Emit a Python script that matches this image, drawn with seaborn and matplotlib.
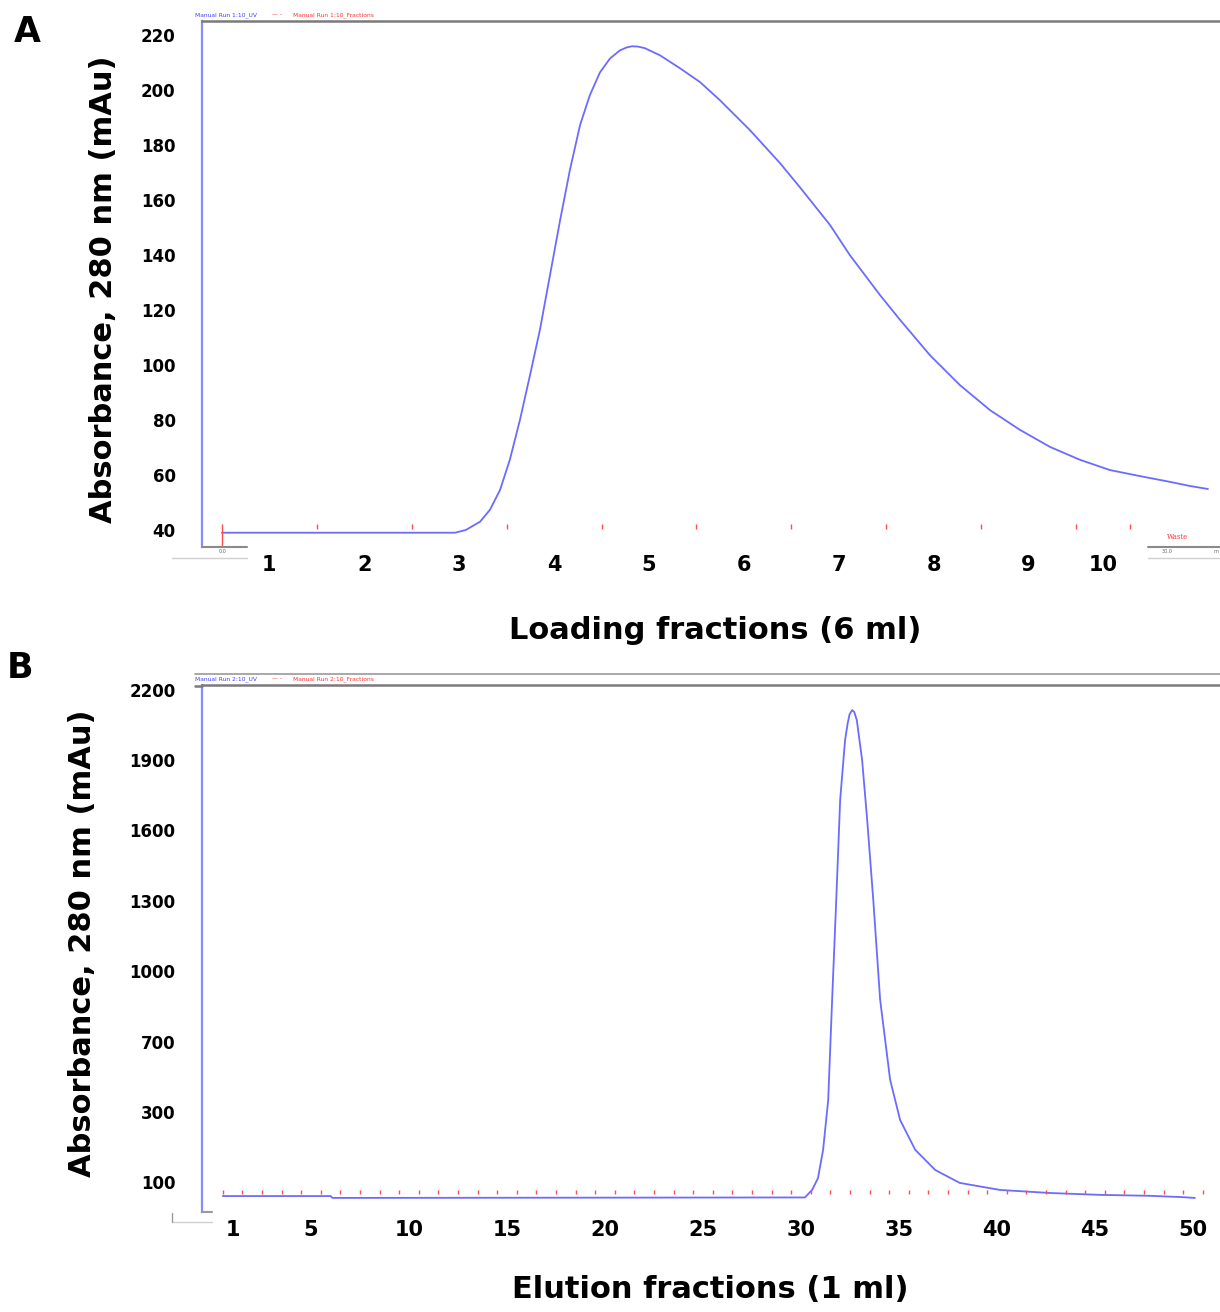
import numpy as np
import pandas as pd
import matplotlib.pyplot as plt
import seaborn as sns
from matplotlib.lines import Line2D

# --- Panel A: loading run (volume in ml, absorbance in mAu) ---
load_ml = [0.0, 7.37, 7.71, 8.16, 8.47, 8.79, 9.1, 9.42, 9.74, 10.05, 10.37, 10.69,
           11.0, 11.32, 11.63, 11.95, 12.27, 12.58, 12.8, 12.96, 13.15, 13.37, 13.85,
           14.48, 15.11, 15.74, 16.69, 17.64, 18.27, 19.22, 19.85, 20.8, 21.44,
           22.38, 23.33, 24.28, 25.23, 26.18, 27.13, 28.07, 29.02, 29.97, 30.6, 31.17]
load_mau = [39, 39, 40, 43, 47.3, 54.5, 65.5, 80, 96.4, 112.7, 132.7, 152.7,
            171, 187.3, 198.2, 206.5, 211.6, 214.5, 215.6, 216, 215.9, 215.3, 212.7,
            208, 203, 196.4, 185.5, 173.5, 164.7, 151, 140, 125.5, 116.4,
            103.6, 92.7, 83.6, 76.4, 70.2, 65.5, 61.8, 59.6, 57.5, 56, 54.9]
load_marks = [0, 3, 6, 9, 12, 15, 18, 21, 24, 27, 28.7]
load_labels = ['1', '2', '3', '4', '5', '6', '7', '8', '9', '10']
load_yticks = [40, 60, 80, 100, 120, 140, 160, 180, 200, 220]

# --- Panel B: elution run ---
elu_ml = [0.0, 5.5, 5.6, 29.7, 30.07, 30.37, 30.63, 30.89, 31.09, 31.3, 31.5,
          31.75, 31.88, 31.98, 32.11, 32.22, 32.35, 32.62, 32.88, 33.19, 33.54,
          34.05, 34.56, 35.33, 36.35, 37.6, 39.66, 42.2, 44.76, 47.3, 48.8, 49.6]
elu_mau = [42, 42, 34, 36, 68, 119, 239, 452, 878, 1303, 1730,
           1985, 2055, 2095, 2113, 2105, 2070, 1900, 1644, 1303, 878,
           537, 366, 239, 153, 98, 68, 55, 47, 43, 38, 34]
elu_marks = list(range(0, 51))
elu_labels = ['1', '5', '10', '15', '20', '25', '30', '35', '40', '45', '50']
elu_label_fracs = [1, 5, 10, 15, 20, 25, 30, 35, 40, 45, 50]
elu_yticks = [2200, 1900, 1600, 1300, 1000, 700, 400, 100]
elu_yticklabels = ['2200', '1900', '1600', '1300', '1000', '700', '300', '100']

ylab = 'Absorbance, 280 nm (mAu)'
curve_col = '#6b6bff'
axis_col = '#8a8aff'
mark_col = '#ff4d4d'

sns.set_style('white')
plt.rcParams['font.family'] = ['DejaVu Sans']
plt.rcParams['text.color'] = 'black'
plt.rcParams['axes.labelcolor'] = 'black'
plt.rcParams['xtick.labelcolor'] = 'black'
plt.rcParams['ytick.labelcolor'] = 'black'

W, H = 1220, 1312
fig = plt.figure(figsize=(W / 100, H / 100), dpi=100)


def px_axes(l, t, r, b):
    return fig.add_axes([l / W, 1 - b / H, (r - l) / W, (b - t) / H])


def px_line(x0, x1, y0, y1, color, lw):
    fig.add_artist(Line2D([x0 / W, x1 / W], [1 - y0 / H, 1 - y1 / H],
                          transform=fig.transFigure, color=color, lw=lw))


def px_text(x, y, s, **kw):
    fig.text(x / W, 1 - y / H, s, **kw)


def style_axes(ax):
    for side in ['right', 'bottom']:
        ax.spines[side].set_visible(False)
    ax.spines['left'].set_color(axis_col)
    ax.spines['left'].set_linewidth(1.6)
    ax.spines['top'].set_color('#7a7a7a')
    ax.spines['top'].set_linewidth(1.8)
    ax.tick_params(axis='y', which='both', direction='out', color=axis_col,
                   length=3, width=1, pad=16, labelsize=12, labelcolor='black')
    ax.tick_params(axis='x', which='both', length=0, pad=6, labelsize=15,
                   labelcolor='black')
    for t in ax.get_yticklabels() + ax.get_xticklabels():
        t.set_fontweight('bold')


# ---------- Panel A ----------
axA = px_axes(202, 21, 1220, 547)
dfA = pd.DataFrame({'ml': load_ml, 'mAu': load_mau})
sns.lineplot(data=dfA, x='ml', y='mAu', ax=axA, color=curve_col, linewidth=1.3)
axA.set_xlim(-0.63, 31.55)
axA.set_ylim(33.8, 225.2)
axA.set_yticks(load_yticks)
axA.set_yticks(np.arange(35, 225, 5), minor=True)
mids = [(a + b) / 2 for a, b in zip(load_marks[:-1], load_marks[1:])]
axA.set_xticks(mids)
axA.set_xticklabels(load_labels)
axA.vlines(load_marks[1:], 0.034, 0.044, transform=axA.get_xaxis_transform(),
           color=mark_col, lw=1)
axA.vlines(load_marks[0], 0.0, 0.044, transform=axA.get_xaxis_transform(),
           color=mark_col, lw=1)
axA.set_xlabel('Loading fractions (6 ml)', fontsize=22, fontweight='bold',
               va='center')
axA.xaxis.set_label_coords(0.504, -0.158)
axA.set_ylabel(ylab, fontsize=22, fontweight='bold', va='center')
axA.yaxis.set_label_coords(-0.097, 0.49)
style_axes(axA)

# ---------- Panel B ----------
axB = px_axes(202, 685, 1220, 1212)
dfB = pd.DataFrame({'ml': elu_ml, 'mAu': elu_mau})
sns.lineplot(data=dfB, x='ml', y='mAu', ax=axB, color=curve_col, linewidth=1.3)
axB.set_xlim(-1.06, 50.88)
axB.set_ylim(-26, 2220)
axB.set_yticks(elu_yticks)
axB.set_yticklabels(elu_yticklabels)
axB.set_yticks(np.arange(0, 2201, 100), minor=True)
axB.set_xticks([f - 0.5 for f in elu_label_fracs])
axB.set_xticklabels(elu_labels)
axB.vlines(elu_marks, 0.034, 0.042, transform=axB.get_xaxis_transform(),
           color=mark_col, lw=1)
axB.set_xlabel('Elution fractions (1 ml)', fontsize=22, fontweight='bold',
               va='center')
axB.xaxis.set_label_coords(0.499, -0.148)
axB.set_ylabel(ylab, fontsize=22, fontweight='bold', va='center')
axB.yaxis.set_label_coords(-0.117, 0.51)
style_axes(axB)

# panel letters
px_text(27, 32, 'A', fontsize=25, fontweight='bold', ha='center', va='center')
px_text(20, 668, 'B', fontsize=25, fontweight='bold', ha='center', va='center')

# tiny software legend strings
for y, run in [(15, '1:10'), (679, '2:10')]:
    px_text(195, y, 'Manual Run %s_UV' % run, fontsize=4.3, color='#4040ff',
            va='center')
    px_text(272, y, '\u2014 -', fontsize=4.3, color='#ff3030', va='center')
    px_text(293, y, 'Manual Run %s_Fractions' % run, fontsize=4.3,
            color='#ff3030', va='center')
px_line(195, 1220, 674, 674, '#9a9a9a', 1.2)
px_line(195, 202, 686, 686, '#7a7a7a', 1.8)

# bottom axis fragments left over from the software screenshot
px_line(202, 247, 547, 547, '#8a8a8a', 1.5)
px_line(1148, 1220, 547, 547, '#8a8a8a', 1.5)
px_line(172, 247, 558, 558, '#d0d0d0', 1)
px_line(1148, 1220, 558, 558, '#d0d0d0', 1)
px_line(202, 212, 1212, 1212, '#9a9a9a', 1.5)
px_line(172, 212, 1222, 1222, '#d0d0d0', 1)
px_line(172, 172, 1213, 1222, '#9a9a9a', 1)
px_text(222, 552, '0.0', fontsize=3.5, color='#666666', ha='center', va='center')
px_text(1167, 552, '30.0', fontsize=3.5, color='#666666', ha='center',
        va='center')
px_text(1216, 552, 'm', fontsize=3.5, color='#666666', ha='center', va='center')
px_text(1178, 537, 'Waste', fontsize=5, color='#ff3030', ha='center',
        va='center', family='DejaVu Serif')

fig.savefig('out.png', dpi=100)
